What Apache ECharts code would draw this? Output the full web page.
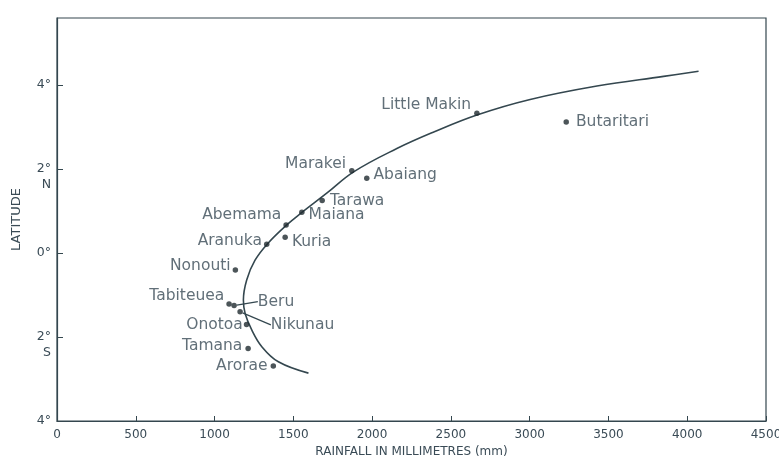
<!DOCTYPE html>
<html>
<head>
<meta charset="utf-8">
<script src="https://cdn.jsdelivr.net/npm/echarts@6/dist/echarts.min.js"></script>
<style>
  html, body { margin: 0; padding: 0; background: #fff; }
  #chart { width: 779px; height: 459px; }
</style>
</head>
<body>
<div id="chart"></div>
<script>
// island stations: rainfall (mm) against latitude (N positive)
const islands = ['Little Makin', 'Butaritari', 'Marakei', 'Abaiang', 'Tarawa', 'Maiana', 'Abemama', 'Kuria',
  'Aranuka', 'Nonouti', 'Tabiteuea', 'Beru', 'Nikunau', 'Onotoa', 'Tamana', 'Arorae']
const rainfall = [2665, 3232, 1871, 1966, 1683, 1554, 1454, 1448, 1331, 1132, 1092, 1124, 1162, 1203, 1213, 1373]
const latitude = [3.33, 3.12, 1.96, 1.78, 1.25, 0.97, 0.67, 0.38, 0.21, -0.40, -1.21, -1.25, -1.40, -1.70, -2.27, -2.69]

// hand drawn trend curve
const curveRain = [1596, 1405, 1300, 1236, 1194, 1183, 1204, 1257, 1338, 1458, 1548, 1710, 1885, 2157, 2395, 2665, 3003, 3427, 3850, 4072]
const curveLat = [-2.86, -2.59, -2.23, -1.83, -1.44, -1.12, -0.64, -0.17, 0.23, 0.67, 0.95, 1.42, 1.94, 2.49, 2.89, 3.29, 3.66, 3.98, 4.21, 4.33]

// tick labels
const yTickLabels = { '4': '4°', '2': ' \n2°\nN', '0': '0°', '-2': ' \n2°\nS', '-4': '4°' }

const ink = '#34474f'
const textInk = '#3a4b56'
const font = 'DejaVu Sans'

// where each label sits relative to its dot: side, gap, [dx, dy]
const labelPlace = {
  'Little Makin': ['left', 3, [0, -8]],
  'Butaritari': ['right', 7, [0, 0]],
  'Marakei': ['left', 3, [0, -7]],
  'Abaiang': ['right', 4, [0, -3]],
  'Tarawa': ['right', 5, [0, 0]],
  'Maiana': ['right', 4, [0, 3]],
  'Abemama': ['left', 2, [0, -10]],
  'Kuria': ['right', 4, [0, 5]],
  'Aranuka': ['left', 2, [0, -3]],
  'Nonouti': ['left', 2, [0, -4]],
  'Tabiteuea': ['left', 2, [0, -8]],
  'Beru': ['right', 5, [16, -4]],
  'Nikunau': ['right', 5, [23, 13]],
  'Onotoa': ['left', 1, [0, 1]],
  'Tamana': ['left', 3, [0, -2]],
  'Arorae': ['left', 3, [0, 0]]
}
// labels pulled away from their dots, joined by a leader line
const leaders = ['Beru', 'Nikunau']

const points = islands.map((name, i) => {
  const p = labelPlace[name]
  return {
    name: name,
    value: [rainfall[i], latitude[i]],
    label: { position: p[0], distance: p[1] },
    labelLine: { show: leaders.includes(name) }
  }
})

const curve = curveRain.map((r, i) => [r, curveLat[i]])

const chart = echarts.init(document.getElementById('chart'), null, { renderer: 'canvas' })

chart.setOption({
  backgroundColor: '#fff',
  animation: false,
  grid: {
    left: 57, right: 13, top: 18, bottom: 38,
    outerBoundsMode: 'none',
    show: true, borderColor: ink, borderWidth: 1.2
  },
  xAxis: {
    type: 'value',
    min: 0, max: 4500, interval: 500,
    name: 'RAINFALL IN MILLIMETRES (mm)',
    nameLocation: 'middle',
    nameGap: 24,
    nameTextStyle: { color: textInk, fontFamily: font, fontSize: 12 },
    axisLine: { onZero: false, lineStyle: { color: ink, width: 1.2 } },
    axisTick: { inside: true, length: 5, lineStyle: { color: ink } },
    axisLabel: { color: textInk, fontFamily: font, fontSize: 12, margin: 8, formatter: v => String(v) },
    splitLine: { show: false }
  },
  yAxis: {
    type: 'value',
    min: -4, max: 5.6, interval: 2,
    name: 'LATITUDE',
    nameLocation: 'middle',
    nameGap: 34,
    nameTextStyle: { color: textInk, fontFamily: font, fontSize: 13 },
    axisLine: { onZero: false, lineStyle: { color: ink, width: 1.2 } },
    axisTick: { inside: true, length: 6, lineStyle: { color: ink } },
    axisLabel: {
      color: textInk, fontFamily: font, fontSize: 12.5, margin: 6,
      lineHeight: 16, align: 'right',
      showMaxLabel: false,
      formatter: v => yTickLabels[String(v)] || ''
    },
    splitLine: { show: false }
  },
  series: [
    {
      type: 'line',
      data: curve,
      smooth: 0.4,
      symbol: 'none',
      lineStyle: { color: ink, width: 1.6 },
      z: 1
    },
    {
      type: 'scatter',
      data: points,
      symbolSize: 5.5,
      itemStyle: { color: '#1f2a30' },
      label: {
        show: true,
        formatter: '{b}',
        color: textInk,
        fontFamily: font,
        fontSize: 15.5
      },
      labelLine: { lineStyle: { color: ink, width: 1.2 } },
      labelLayout: function (params) {
        const s = labelPlace[islands[params.dataIndex]][2]
        return { dx: s[0], dy: s[1] }
      },
      z: 3
    }
  ]
})
</script>
</body>
</html>
